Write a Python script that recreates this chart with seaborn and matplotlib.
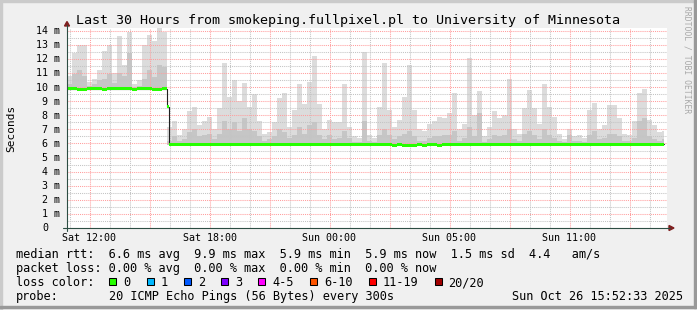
import numpy as np
import matplotlib
matplotlib.use("Agg")
import matplotlib.pyplot as plt
import seaborn as sns
from matplotlib.patches import Rectangle, Polygon
from matplotlib.lines import Line2D
from matplotlib.ticker import MultipleLocator

# ------------------------------------------------------------------ data
title = "Last 30 Hours from smokeping.fullpixel.pl to University of Minnesota"
unit_label = "Seconds"
watermark = "RRDTOOL / TOBI OETIKER"

# time axis: elapsed hours relative to Sat 12:00 (DST change at night)
start_hour = -1.125
bin_hours = 0.25
data_end_hour = 28.7

# upper edge of the light smoke per 15-minute bin (ms)
smoke_top = [
    10.8, 12.4, 13.0, 13.0, 10.4, 10.6, 11.2, 12.6, 13.0, 11.0,
    13.6, 11.6, 13.9, 10.2, 10.5, 13.0, 13.7, 13.3, 14.2, 13.9,
    7.2, 7.6, 6.6, 7.0, 8.3, 8.6, 7.3, 7.6, 7.9, 7.0,
    8.5, 11.7, 9.3, 10.5, 9.0, 10.3, 8.6, 9.5, 7.6, 6.7,
    6.8, 7.5, 9.2, 9.6, 7.2, 8.4, 10.2, 8.8, 10.4, 12.2,
    8.8, 7.0, 7.7, 7.5, 7.5, 10.2, 7.2, 6.5, 6.4, 12.5,
    6.6, 6.4, 8.6, 11.7, 8.4, 7.2, 7.7, 9.3, 11.6, 8.4,
    7.0, 6.9, 7.4, 7.6, 7.9, 7.8, 8.2, 9.6, 7.0, 7.4,
    12.1, 8.0, 9.7, 6.5, 7.2, 8.3, 7.8, 8.0, 10.6, 7.0,
    6.7, 8.5, 9.8, 8.5, 7.4, 10.2, 8.6, 7.9, 6.7, 6.3,
    7.0, 6.5, 6.6, 6.4, 8.4, 8.9, 7.0, 7.3, 8.7, 8.7,
    7.8, 6.7, 6.6, 7.6, 9.6, 9.9, 7.7, 7.3, 6.8, 6.9,
]
# upper edge of the denser (darker) smoke per bin (ms)
smoke_mid = [
    10.2, 10.9, 11.2, 10.8, 10.1, 10.2, 10.5, 10.6, 10.9, 10.3,
    11.0, 10.8, 12.4, 10.0, 10.1, 10.6, 11.2, 10.7, 11.6, 11.4,
    6.2, 6.5, 6.2, 6.3, 6.8, 7.0, 6.5, 6.6, 6.7, 6.3,
    6.7, 7.6, 7.0, 7.5, 6.9, 7.8, 7.0, 6.9, 6.5, 6.2,
    6.3, 6.5, 7.0, 6.8, 6.4, 6.6, 7.2, 6.7, 7.3, 7.5,
    6.6, 6.3, 6.6, 6.3, 6.4, 6.9, 6.4, 6.1, 6.1, 7.6,
    6.2, 6.1, 6.6, 7.0, 6.6, 6.3, 6.5, 6.7, 6.9, 6.5,
    6.2, 6.2, 6.4, 6.5, 6.5, 6.6, 6.6, 6.9, 6.2, 6.4,
    7.2, 6.5, 8.2, 6.1, 6.3, 6.6, 6.5, 6.6, 7.0, 6.3,
    6.2, 6.7, 6.9, 6.6, 6.3, 7.0, 6.6, 6.4, 6.2, 6.1,
    6.6, 6.2, 6.2, 6.1, 6.6, 6.9, 6.3, 6.4, 6.7, 6.7,
    6.5, 6.2, 6.2, 6.4, 7.6, 7.8, 6.5, 6.3, 6.2, 6.3,
]
# median rtt per bin (ms)
median_rtt = [
    9.9, 9.9, 9.85, 9.85, 9.9, 9.9, 9.9, 9.85, 9.9, 9.9,
    9.9, 9.9, 9.9, 9.85, 9.9, 9.9, 9.9, 9.85, 9.85, 9.9,
    5.95, 5.95, 5.95, 5.95, 5.95, 5.95, 5.95, 5.95, 5.95, 5.95,
    5.95, 5.95, 5.95, 5.95, 5.95, 5.95, 5.95, 5.95, 5.95, 5.95,
    5.95, 5.95, 5.95, 5.95, 5.95, 5.95, 5.95, 5.95, 5.95, 5.95,
    5.95, 5.95, 5.95, 5.95, 5.95, 5.95, 5.95, 5.95, 5.95, 5.95,
    5.95, 5.95, 5.95, 5.95, 5.95, 5.88, 5.95, 5.88, 5.88, 5.88,
    5.95, 5.88, 5.95, 5.95, 5.88, 5.95, 5.95, 5.95, 5.95, 5.95,
    5.95, 5.95, 5.95, 5.95, 5.95, 5.95, 5.95, 5.95, 5.95, 5.95,
    5.95, 5.95, 5.95, 5.95, 5.95, 5.95, 5.95, 5.95, 5.95, 5.95,
    5.95, 5.95, 5.95, 5.95, 5.95, 5.95, 5.95, 5.95, 5.95, 5.95,
    5.95, 5.95, 5.95, 5.95, 5.95, 5.95, 5.95, 5.95, 5.95, 5.95,
]
step_bin = 20          # bin in which the level change happened
step_median = 8.6      # one 5-minute sample in between
step_hours = 1 / 12

x_tick_hours = [0, 6, 12, 18, 24]
x_tick_labels = ["Sat 12:00", "Sat 18:00", "Sun 00:00", "Sun 05:00", "Sun 11:00"]
y_tick_values = list(range(0, 15))
y_tick_labels = ["0"] + [f"{v} m" for v in range(1, 15)]

rtt_names = ["avg", "max", "min", "now"]
rtt_values = [6.6, 9.9, 5.9, 5.9]
rtt_sd = 1.5
rtt_ams = 4.4
loss_values = [0.00, 0.00, 0.00, 0.00]
loss_labels = ["0", "1", "2", "3", "4-5", "6-10", "11-19", "20/20"]
loss_colors = ["#26ff00", "#00b8ff", "#0059ff", "#7e00ff",
               "#ff00ff", "#ff5500", "#ff0000", "#a10000"]
probe_text = "20 ICMP Echo Pings (56 Bytes) every 300s"
stamp_text = "Sun Oct 26 15:52:33 2025"

# ------------------------------------------------------------------ style
sns.set_style("white")
plt.rcParams["font.family"] = ["DejaVu Sans Mono"]
plt.rcParams["text.color"] = "black"

W, H = 697, 310
fig = plt.figure(figsize=(W / 100, H / 100), dpi=100)
fig.patch.set_facecolor("#f0f0f0")


def fx(x):
    return x / W


def fy(y):
    return 1 - y / H


X0, X1, YB, YT = 67, 667, 228, 28
YMAX = 14.2
XMIN, XMAX = start_hour, start_hour + 30
ax = fig.add_axes([fx(X0), fy(YB), (X1 - X0) / W, (YB - YT) / H])
ax.set_facecolor("white")


def px_x(h):
    return X0 + (h - XMIN) * (X1 - X0) / (XMAX - XMIN)


def px_y(v):
    return YB - v * (YB - YT) / YMAX


n = len(smoke_top)
edges = start_hour + bin_hours * np.arange(n)
t_ext = np.append(edges, data_end_hour)
med = np.array(median_rtt)
base = med - 0.08


def ext(a):
    a = np.asarray(a, dtype=float)
    return np.append(a, a[-1])


# smoke
ax.fill_between(t_ext, ext(base), ext(smoke_top), step="post",
                color="#dcdcdc", linewidth=0, zorder=1)
ax.fill_between(t_ext, ext(base), ext(smoke_mid), step="post",
                color="#c6c6c6", linewidth=0, zorder=1.1)

# median line
med_t = list(edges[:step_bin]) + [edges[step_bin], edges[step_bin] + step_hours] \
    + list(edges[step_bin + 1:]) + [data_end_hour]
med_v = list(median_rtt[:step_bin]) + [step_median] + list(median_rtt[step_bin:]) \
    + [median_rtt[-1]]
med_t = np.array(med_t)
med_v = np.array(med_v)
sns.lineplot(x=med_t, y=med_v, drawstyle="steps-post", color="#202020",
             linewidth=0.8, ax=ax, zorder=3, estimator=None, sort=False)
ax.fill_between(med_t, med_v - 0.1, med_v + 0.1, step="post",
                color=loss_colors[0], linewidth=0, zorder=4)
ax.set_xlim(XMIN, XMAX)
ax.set_ylim(0, YMAX)

# grid
ax.xaxis.set_major_locator(MultipleLocator(3))
ax.xaxis.set_minor_locator(MultipleLocator(1))
ax.yaxis.set_major_locator(MultipleLocator(1))
ax.yaxis.set_minor_locator(MultipleLocator(0.5))
ax.set_axisbelow(False)
ax.grid(which="major", color="#ff9e9e", linestyle=(0, (1, 1)), linewidth=0.75)
ax.grid(which="minor", color="#c4c4c4", linestyle=(0, (1, 1)), linewidth=0.75)
ax.tick_params(which="both", length=0, labelbottom=False, labelleft=False)
ax.set_xlabel("")
ax.set_ylabel("")
for s in ax.spines.values():
    s.set_visible(False)

# axes lines + arrows
axis_col = "#2c4d43"
arrow_col = "#7f1f1f"
fig.add_artist(Line2D([fx(63), fx(670)], [fy(YB), fy(YB)], color=axis_col,
                      linewidth=0.8, transform=fig.transFigure))
fig.add_artist(Line2D([fx(X0), fx(X0)], [fy(YB + 3), fy(25)], color=axis_col,
                      linewidth=0.8, transform=fig.transFigure))
fig.add_artist(Polygon([(fx(674), fy(YB)), (fx(669), fy(YB - 2.5)), (fx(669), fy(YB + 2.5))],
                       closed=True, color=arrow_col, transform=fig.transFigure))
fig.add_artist(Polygon([(fx(X0), fy(21.5)), (fx(X0 - 2.5), fy(26)), (fx(X0 + 2.5), fy(26))],
                       closed=True, color=arrow_col, transform=fig.transFigure))

# tick labels
axis_fs = 7.2
adv_axis = 0.602 * axis_fs * 100 / 72
for v, lab in zip(y_tick_values, y_tick_labels):
    xr = 60 if v > 0 else 60 - 2 * adv_axis
    fig.text(fx(xr), fy(px_y(v) + 3.4), lab, ha="right", va="baseline",
             fontsize=axis_fs)
for h, lab in zip(x_tick_hours, x_tick_labels):
    fig.text(fx(px_x(h)), fy(241), lab, ha="center", va="baseline",
             fontsize=axis_fs)

# title, unit, watermark
fig.text(0.5, fy(24), title, ha="center", va="baseline", fontsize=9.6)
fig.text(fx(11), fy(128), unit_label, rotation=90, ha="center", va="center",
         fontsize=8)
fig.text(fx(687), fy(60), watermark, rotation=270, ha="center", va="center",
         fontsize=5.8, color="#a8a8a8")

# legend
leg_fs = 8.6
adv = 0.602 * leg_fs * 100 / 72
LX = 16
line1 = "median rtt:  " + "  ".join(f"{v:.1f} ms {n_}" for v, n_ in zip(rtt_values, rtt_names)) \
    + f"  {rtt_sd:.1f} ms sd  {rtt_ams:.1f}   am/s"
line2 = "packet loss: " + "  ".join(f"{v:.2f} % {n_}" for v, n_ in zip(loss_values, rtt_names))
fig.text(fx(LX), fy(258), line1, ha="left", va="baseline", fontsize=leg_fs)
fig.text(fx(LX), fy(272), line2, ha="left", va="baseline", fontsize=leg_fs)
fig.text(fx(LX), fy(286), "loss color:", ha="left", va="baseline", fontsize=leg_fs)
bx = LX + 13 * adv
for lab, col in zip(loss_labels, loss_colors):
    fig.add_artist(Rectangle((fx(bx), fy(285.3)), 7 / W, 7 / H, facecolor=col,
                             edgecolor="black", linewidth=0.75,
                             transform=fig.transFigure))
    tx = bx + 14
    fig.text(fx(tx), fy(286), lab, ha="left", va="baseline", fontsize=leg_fs)
    bx = tx + len(lab) * adv + 16
fig.text(fx(LX), fy(300), "probe:", ha="left", va="baseline", fontsize=leg_fs)
fig.text(fx(LX + 13 * adv), fy(300), probe_text, ha="left", va="baseline",
         fontsize=leg_fs)
fig.text(fx(683), fy(300), stamp_text, ha="right", va="baseline", fontsize=leg_fs)

# 3D frame
fig.add_artist(Rectangle((0, fy(2)), 1, 2 / H, color="#cbcbcb", transform=fig.transFigure))
fig.add_artist(Rectangle((0, 0), 2 / W, 1, color="#cbcbcb", transform=fig.transFigure))
fig.add_artist(Rectangle((0, fy(308)), fx(696), 2 / H, color="#999999",
                         transform=fig.transFigure))
fig.add_artist(Rectangle((fx(694), fy(308)), 2 / W, 1 - fy(308), color="#999999",
                         transform=fig.transFigure))

fig.savefig("out.png", dpi=100, facecolor=fig.get_facecolor())
